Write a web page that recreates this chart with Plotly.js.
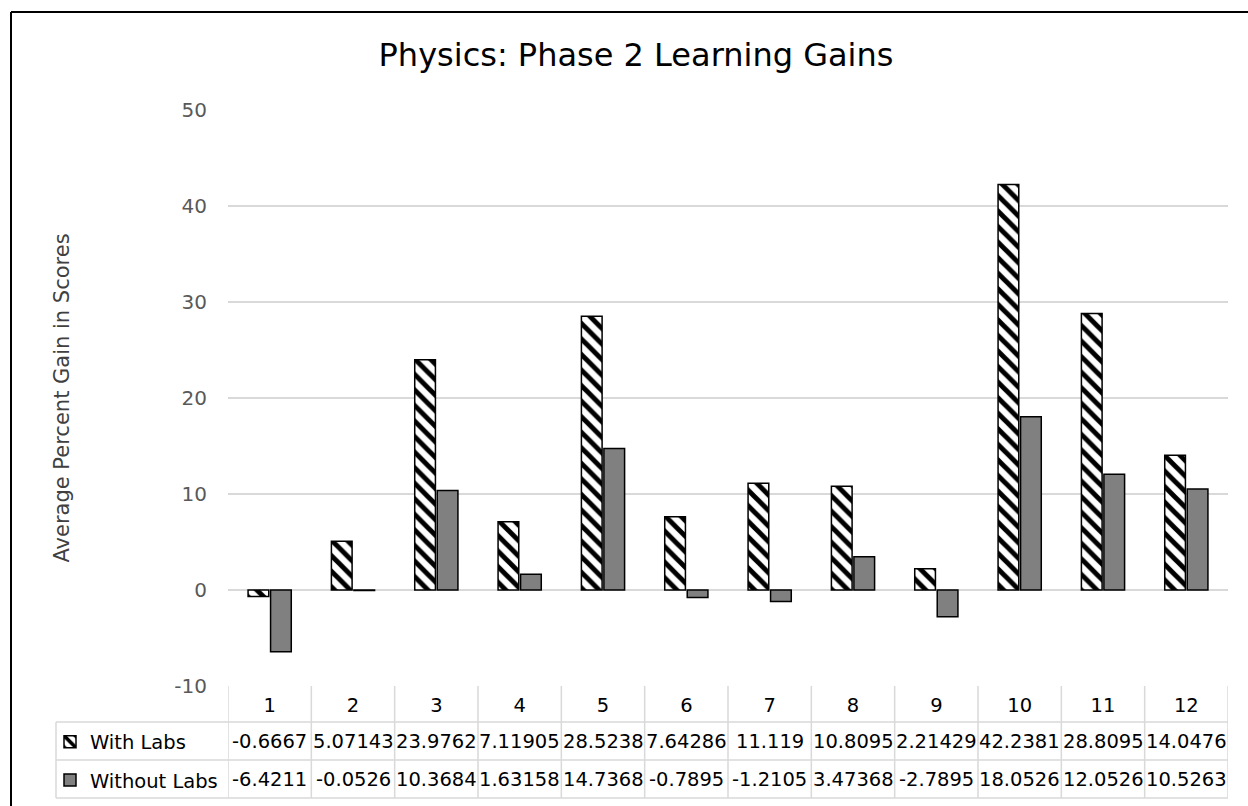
<!DOCTYPE html>
<html>
<head>
<meta charset="utf-8">
<script src="https://cdn.plot.ly/plotly-3.0.1.min.js"></script>
<style>html,body{margin:0;padding:0;background:#fff;}#chart{width:1248px;height:806px;}</style>
</head>
<body>
<div id="chart"></div>
<script>
// ---- data ----
const categories = ['1','2','3','4','5','6','7','8','9','10','11','12'];
const seriesNames = ['With Labs', 'Without Labs'];
const withLabs = [-0.6667, 5.07143, 23.9762, 7.11905, 28.5238, 7.64286, 11.119, 10.8095, 2.21429, 42.2381, 28.8095, 14.0476];
const withoutLabs = [-6.4211, -0.0526, 10.3684, 1.63158, 14.7368, -0.7895, -1.2105, 3.47368, -2.7895, 18.0526, 12.0526, 10.5263];
const yTicks = [-10, 0, 10, 20, 30, 40, 50];
const yTickLabels = ['-10', '0', '10', '20', '30', '40', '50'];
const titleText = 'Physics: Phase 2 Learning Gains';
const yTitleText = 'Average Percent Gain in Scores';

// ---- layout geometry (pixels) ----
const W = 1248, H = 806;
const M = {l: 228, r: 20, t: 110, b: 120, autoexpand: false};
const plotH = H - M.t - M.b, plotW = W - M.l - M.r;
const pyPaper = py => (H - M.b - py) / plotH;      // pixel y -> paper y
const pxPaper = px => (px - M.l) / plotW;           // pixel x -> paper x
const FONT = '"DejaVu Sans", "Liberation Sans", Arial, sans-serif';
const gridCol = '#d9d9d9';

const traces = [
  {
    type: 'bar', name: seriesNames[0], x: categories, y: withLabs,
    marker: {color: '#ffffff', line: {color: '#000000', width: 1.5},
             pattern: {shape: '\\', fgcolor: '#000000', bgcolor: '#ffffff', size: 11, solidity: 0.45}},
    legendgroup: 'a'
  },
  {
    type: 'bar', name: seriesNames[1], x: categories, y: withoutLabs,
    marker: {color: '#808080', line: {color: '#000000', width: 1.5}},
    legendgroup: 'b'
  }
];

// ---- data table (drawn below the plot) ----
const rowTop = [722, 760];
const rowBottom = 798;
const rowHeadLeft = 56;
const shapes = [];
const lineStyle = {color: gridCol, width: 1.5};
[rowTop[0], rowTop[1], rowBottom].forEach(py => {
  shapes.push({type: 'line', xref: 'paper', yref: 'paper', x0: pxPaper(rowHeadLeft), x1: 1,
               y0: pyPaper(py), y1: pyPaper(py), line: lineStyle, layer: 'below'});
});
for (let i = 0; i <= categories.length; i++) {
  shapes.push({type: 'line', xref: 'x', yref: 'paper', x0: i - 0.5, x1: i - 0.5,
               y0: pyPaper(rowBottom), y1: 0, line: lineStyle, layer: 'below'});
}
shapes.push({type: 'line', xref: 'paper', yref: 'paper', x0: pxPaper(rowHeadLeft), x1: pxPaper(rowHeadLeft),
             y0: pyPaper(rowBottom), y1: pyPaper(rowTop[0]), line: lineStyle, layer: 'below'});
// chart frame (top and left edges visible)
shapes.push({type: 'line', xref: 'paper', yref: 'paper', x0: pxPaper(11), x1: pxPaper(W + 5),
             y0: pyPaper(12), y1: pyPaper(12), line: {color: '#000', width: 2}});
shapes.push({type: 'line', xref: 'paper', yref: 'paper', x0: pxPaper(11), x1: pxPaper(11),
             y0: pyPaper(12), y1: pyPaper(H + 5), line: {color: '#000', width: 2}});

const annotations = [];
[withLabs, withoutLabs].forEach((vals, r) => {
  const cy = (rowTop[r] + (r === 0 ? rowTop[1] : rowBottom)) / 2;
  vals.forEach((v, i) => {
    annotations.push({xref: 'x', yref: 'paper', x: i, y: pyPaper(cy),
                      text: String(v), showarrow: false, xanchor: 'center', yanchor: 'middle',
                      font: {family: FONT, size: 19.5, color: '#000'}});
  });
});

const layout = {
  width: W, height: H,
  margin: M,
  paper_bgcolor: '#ffffff', plot_bgcolor: '#ffffff',
  font: {family: FONT, color: '#000'},
  title: {text: titleText, font: {family: FONT, size: 32, color: '#000'},
          x: 636 / W, xanchor: 'center', xref: 'container', y: 1 - 55 / H, yanchor: 'middle', yref: 'container'},
  barmode: 'group', bargap: 0.46, bargroupgap: 0.08,
  xaxis: {type: 'category', range: [-0.5, categories.length - 0.5], showgrid: false, zeroline: false,
          showline: false, ticks: '', tickfont: {family: FONT, size: 19.5, color: '#000'}, ticklabelstandoff: 5,
          fixedrange: true},
  yaxis: {range: [yTicks[0], yTicks[yTicks.length - 1]], tickvals: yTicks, ticktext: yTickLabels,
          showgrid: true, gridcolor: gridCol,
          gridwidth: 1.5, zeroline: true, zerolinecolor: gridCol, zerolinewidth: 1.5, showline: false, ticks: '',
          tickfont: {family: FONT, size: 20, color: '#595959'}, ticklabelstandoff: 20,
          title: {text: yTitleText, font: {family: FONT, size: 21, color: '#404040'}, standoff: 98},
          fixedrange: true},
  showlegend: true,
  legend: {x: pxPaper(50), xanchor: 'left', y: pyPaper(761), yanchor: 'middle', orientation: 'v',
           traceorder: 'grouped', tracegroupgap: 10, bgcolor: 'rgba(0,0,0,0)',
           font: {family: FONT, size: 19.5, color: '#000'}, itemwidth: 30},
  shapes: shapes,
  annotations: annotations
};

Plotly.newPlot('chart', traces, layout, {displayModeBar: false, staticPlot: true});
</script>
</body>
</html>
